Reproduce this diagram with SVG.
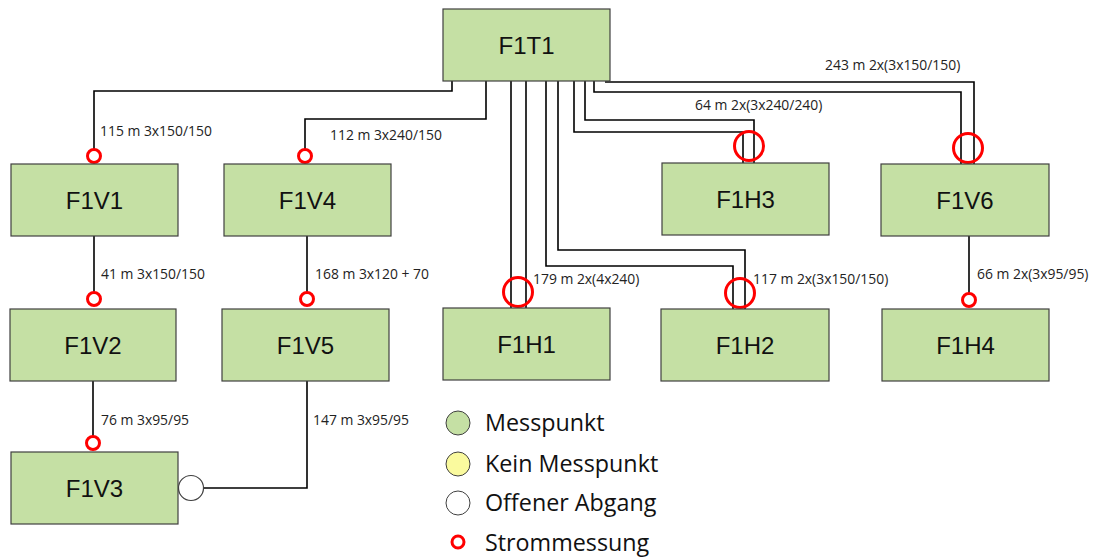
<svg xmlns="http://www.w3.org/2000/svg" width="1099" height="558" viewBox="0 0 1099 558">
  <style>
    .node rect { fill: #c5e0a4; stroke: #404040; stroke-width: 1.2; }
    .node text { font-family: "Liberation Sans", Arial, sans-serif; font-size: 24px; fill: #111; text-anchor: middle; }
    .wire { fill: none; stroke: #000; stroke-width: 1.6; }
    .meas { fill: none; stroke: #ff0000; stroke-width: 3; }
    .lbl { font-family: "Open Sans", "Liberation Sans", sans-serif; font-size: 13.9px; fill: #222; }
    .leg { font-family: "Open Sans", "Liberation Sans", sans-serif; font-size: 23.3px; fill: #111; }
  </style>

  <!-- cables -->
  <g id="connectors">
    <polyline class="wire" points="452,81 452,91 94,91 94,150"/>
    <polyline class="wire" points="486,81 486,119 305,119 305,150"/>
    <line class="wire" x1="511" y1="81" x2="511" y2="308"/>
    <line class="wire" x1="526" y1="81" x2="526" y2="308"/>
    <polyline class="wire" points="546,81 546,266 733,266 733,309"/>
    <polyline class="wire" points="558,81 558,250 745,250 745,309"/>
    <polyline class="wire" points="574,81 574,132 743,132 743,163"/>
    <polyline class="wire" points="585,81 585,120 754,120 754,163"/>
    <polyline class="wire" points="594,81 594,92 961,92 961,164"/>
    <polyline class="wire" points="605,82 974,82 974,164"/>
    <line class="wire" x1="94" y1="236" x2="94" y2="293"/>
    <line class="wire" x1="307" y1="236" x2="307" y2="293"/>
    <line class="wire" x1="93" y1="381" x2="93" y2="437"/>
    <polyline class="wire" points="307,381 307,488 203,488"/>
    <line class="wire" x1="969" y1="236" x2="969" y2="294"/>

    <!-- current measurement points -->
    <circle class="meas" cx="94" cy="156" r="6.5"/>
    <circle class="meas" cx="305" cy="156" r="6.5"/>
    <circle class="meas" cx="94" cy="299" r="6.5"/>
    <circle class="meas" cx="307" cy="299" r="6.5"/>
    <circle class="meas" cx="93" cy="443" r="6.5"/>
    <circle class="meas" cx="969" cy="300" r="6.5"/>
    <circle class="meas" cx="518" cy="292" r="14.5"/>
    <circle class="meas" cx="740" cy="293" r="14.5"/>
    <circle class="meas" cx="749" cy="146" r="14.5"/>
    <circle class="meas" cx="968" cy="148" r="14.5"/>

    <!-- open feeder -->
    <circle cx="191" cy="488" r="12.5" fill="#fff" stroke="#404040" stroke-width="1.2"/>

    <!-- cable labels -->
    <text class="lbl" x="100" y="136">115 m 3x150/150</text>
    <text class="lbl" x="330" y="140">112 m 3x240/150</text>
    <text class="lbl" x="101" y="279">41 m 3x150/150</text>
    <text class="lbl" x="315" y="279">168 m 3x120 + 70</text>
    <text class="lbl" x="101" y="425">76 m 3x95/95</text>
    <text class="lbl" x="313" y="425">147 m 3x95/95</text>
    <text class="lbl" x="533" y="284">179 m 2x(4x240)</text>
    <text class="lbl" x="753" y="284">117 m 2x(3x150/150)</text>
    <text class="lbl" x="695" y="110">64 m 2x(3x240/240)</text>
    <text class="lbl" x="825" y="70">243 m 2x(3x150/150)</text>
    <text class="lbl" x="977" y="279">66 m 2x(3x95/95)</text>
  </g>

  <g id="F1T1" class="node"><rect x="443" y="9" width="167" height="72"/><text x="526.5" y="54">F1T1</text></g>
  <g id="F1V1" class="node"><rect x="11" y="164" width="167" height="72"/><text x="94.5" y="209">F1V1</text></g>
  <g id="F1V4" class="node"><rect x="224" y="164" width="167" height="72"/><text x="307.5" y="209">F1V4</text></g>
  <g id="F1H3" class="node"><rect x="662" y="163" width="167" height="72"/><text x="745.5" y="208">F1H3</text></g>
  <g id="F1V6" class="node"><rect x="881" y="164" width="168" height="72"/><text x="965" y="209">F1V6</text></g>
  <g id="F1V2" class="node"><rect x="10" y="309" width="166" height="72"/><text x="93" y="354">F1V2</text></g>
  <g id="F1V5" class="node"><rect x="222" y="309" width="167" height="72"/><text x="305.5" y="354">F1V5</text></g>
  <g id="F1H1" class="node"><rect x="443" y="308" width="167" height="72"/><text x="526.5" y="353">F1H1</text></g>
  <g id="F1H2" class="node"><rect x="661" y="309" width="168" height="72"/><text x="745" y="354">F1H2</text></g>
  <g id="F1H4" class="node"><rect x="882" y="309" width="167" height="72"/><text x="965.5" y="354">F1H4</text></g>
  <g id="F1V3" class="node"><rect x="11" y="452" width="167" height="72"/><text x="94.5" y="497">F1V3</text></g>

  <!-- legend -->
  <g id="legend">
    <circle cx="458" cy="423" r="12" fill="#c5e0a4" stroke="#404040" stroke-width="1"/>
    <circle cx="458" cy="464" r="12" fill="#fafa9e" stroke="#404040" stroke-width="1"/>
    <circle cx="458" cy="503" r="12" fill="#fff" stroke="#404040" stroke-width="1"/>
    <circle cx="458" cy="542" r="6" fill="none" stroke="#ff0000" stroke-width="3"/>
    <text class="leg" x="485" y="431">Messpunkt</text>
    <text class="leg" x="485" y="472">Kein Messpunkt</text>
    <text class="leg" x="485" y="511">Offener Abgang</text>
    <text class="leg" x="485" y="551">Strommessung</text>
  </g>
</svg>
